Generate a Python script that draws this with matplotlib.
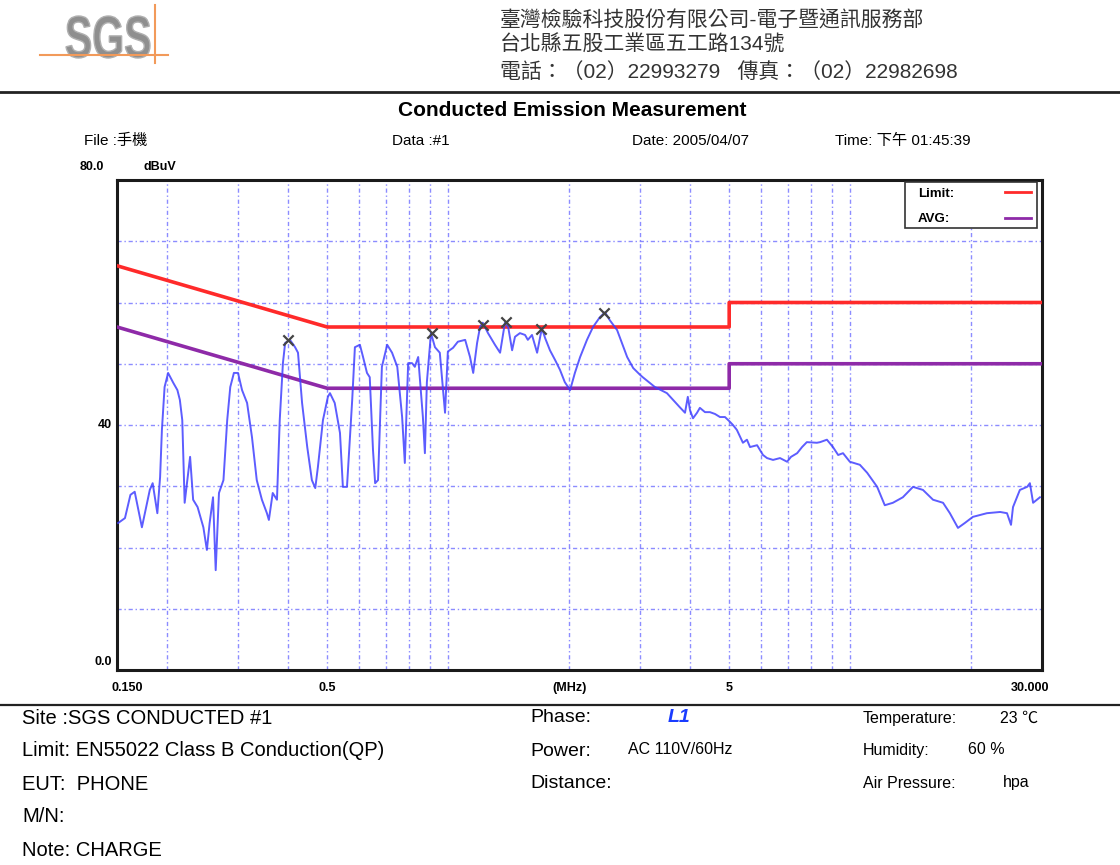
"""
Conducted emission report page: QP / AVG limit lines, measured L1 trace
and peak markers, with the lab header and test-condition block.
"""

import matplotlib
matplotlib.use("Agg")
import matplotlib.pyplot as plt
from matplotlib.lines import Line2D
from matplotlib.patches import PathPatch, Rectangle
from matplotlib.textpath import TextPath
from matplotlib.font_manager import FontProperties
from matplotlib import transforms

W, H = 1120, 865
FONT = ['Liberation Sans', 'Noto Sans CJK TC', 'DejaVu Sans']
plt.rcParams['font.family'] = FONT

# =============================================================================
# data
# =============================================================================

# measured trace, L1 (MHz, dBuV)
FREQ_MHZ = [
    0.151, 0.157, 0.162, 0.166, 0.169, 0.173, 0.176, 0.181, 0.184, 0.189,
    0.192, 0.194, 0.197, 0.201, 0.207, 0.212, 0.215, 0.218, 0.221, 0.228,
    0.232, 0.238, 0.246, 0.251, 0.255, 0.260, 0.264, 0.269, 0.276, 0.282,
    0.287, 0.293, 0.300, 0.307, 0.316, 0.325, 0.334, 0.344, 0.354, 0.358,
    0.366, 0.375, 0.381, 0.388, 0.393, 0.404, 0.416, 0.423, 0.433, 0.446,
    0.458, 0.467, 0.474, 0.488, 0.502,
    0.508, 0.522, 0.538, 0.547, 0.560, 0.577, 0.586, 0.603, 0.614, 0.628,
    0.638, 0.650, 0.658, 0.669, 0.684, 0.705, 0.725, 0.747, 0.768, 0.780,
    0.795, 0.813, 0.826, 0.842, 0.851, 0.865, 0.875, 0.885, 0.906, 0.927,
    0.953, 0.982, 0.998,
    1.028, 1.057, 1.102, 1.133, 1.154, 1.180, 1.200, 1.219, 1.256, 1.307,
    1.346, 1.384, 1.410, 1.442, 1.466, 1.508, 1.553, 1.578, 1.616, 1.664,
    1.710, 1.742, 1.791, 1.845, 1.897, 1.950, 2.010, 2.066, 2.129, 2.214,
    2.292, 2.384, 2.455, 2.524, 2.631, 2.705, 2.787, 2.885, 3.000,
    3.048, 3.267, 3.500, 3.768, 3.882, 3.945, 3.996, 4.064, 4.159, 4.227,
    4.353, 4.478, 4.610, 4.743, 4.881, 5.025, 5.110, 5.225,
    5.409, 5.535, 5.634, 5.866, 6.069, 6.210, 6.428, 6.690, 6.967, 7.125,
    7.380, 7.590, 7.800, 8.262,
    8.415, 8.751, 9.059, 9.334, 9.596, 9.980, 10.57, 11.02, 11.67, 12.19,
    12.77, 13.52, 14.33, 15.17, 16.07, 17.02, 17.70, 18.54, 19.28, 20.19,
    21.88, 23.61, 24.55, 25.12, 25.41, 26.43, 27.55, 27.99, 28.51, 29.65,
]
LEVEL_DBUV = [
    24.0, 24.8, 28.6, 29.1, 26.6, 23.3, 25.6, 29.4, 30.5, 25.6,
    31.5, 39.2, 46.2, 48.5, 46.9, 45.7, 44.1, 40.8, 27.3, 34.8,
    27.8, 26.6, 23.3, 19.6, 24.0, 28.2, 16.3, 28.9, 31.0, 40.8,
    46.2, 48.5, 48.5, 45.7, 43.6, 38.0, 31.0, 27.8, 25.6, 24.5,
    28.9, 27.8, 40.8, 50.1, 53.4, 53.9, 52.7, 51.8, 43.6, 36.4,
    31.0, 29.7, 33.1, 40.8, 44.6,
    45.2, 43.6, 38.7, 29.9, 29.9, 44.1, 52.7, 53.1, 51.1, 48.5,
    47.8, 35.9, 30.5, 31.0, 49.5, 53.1, 51.8, 49.5, 41.3, 33.8,
    50.1, 50.1, 49.5, 51.1, 47.3, 41.3, 35.4, 47.0, 55.0, 52.7,
    51.8, 42.0, 52.0,
    52.6, 53.6, 53.9, 51.1, 48.5, 53.4, 56.0, 56.7, 55.0, 53.1,
    51.8, 56.7, 56.0, 52.2, 54.4, 55.0, 54.7, 53.9, 54.7, 51.8,
    55.8, 54.2, 52.2, 50.6, 49.0, 47.0, 45.7, 48.5, 51.1, 53.9,
    56.0, 57.6, 58.4, 57.1, 55.5, 53.4, 51.1, 49.3, 48.2,
    47.8, 46.2, 45.2, 42.9, 42.0, 44.6, 42.4, 41.1, 42.0, 42.8,
    42.1, 42.1, 41.8, 41.3, 41.3, 40.5, 40.0, 39.2,
    37.1, 37.6, 36.4, 36.7, 35.1, 34.6, 34.3, 34.6, 34.0, 34.8,
    35.4, 36.4, 37.2, 37.1,
    37.2, 37.6, 36.4, 35.1, 35.4, 34.0, 33.5, 32.2, 29.9, 26.9,
    27.3, 28.2, 29.9, 29.4, 27.8, 27.3, 25.6, 23.2, 24.0, 25.0,
    25.6, 25.8, 25.6, 23.7, 26.6, 29.4, 29.9, 30.5, 27.3, 28.2,
]

# EN55022 class B limits
LIMIT_FREQ = [0.15, 0.5, 5.0, 5.0, 30.0]
LIMIT_QP = [66, 56, 56, 60, 60]
LIMIT_AVG = [56, 46, 46, 50, 50]

# marked peaks
MARK_FREQ = [0.400, 0.911, 1.219, 1.392, 1.701, 2.440]
MARK_LEVEL = [53.9, 55.0, 56.3, 56.8, 55.7, 58.3]

GRID_FREQ = [0.2, 0.3, 0.4, 0.5, 0.6, 0.7, 0.8, 0.9, 1, 2, 3, 4, 5,
             6, 7, 8, 9, 10, 20]
GRID_LEVEL = [10, 20, 30, 40, 50, 60, 70]
X_LABELS = [(0.150, '0.150'), (0.5, '0.5'), (2.0, '(MHz)'),
            (5.0, '5'), (30.0, '30.000')]


# =============================================================================
# helpers
# =============================================================================

def fx(x):
    return x / W


def fy(y):
    return 1 - y / H


def put(fig, x, y, s, size=11, **kw):
    kw.setdefault('va', 'center')
    kw.setdefault('ha', 'left')
    fig.text(fx(x), fy(y), s, fontsize=size, **kw)


def draw_logo(fig):
    prop = FontProperties(family='Liberation Sans', weight='bold')
    path = TextPath((0, 0), 'SGS', size=60, prop=prop)
    ext = path.get_extents()
    sx = 84 / ext.width
    sy = 42 / ext.height
    tr = (transforms.Affine2D().translate(-ext.x0, -ext.y0)
          .scale(sx, sy).translate(66, H - 58))
    patch = PathPatch(tr.transform_path(path), facecolor='#8f8f8f',
                      edgecolor='#b0b0b0', lw=1.0,
                      transform=transforms.IdentityTransform())
    fig.add_artist(patch)
    orange = '#f29a5a'
    fig.add_artist(Line2D([fx(40), fx(168)], [fy(55), fy(55)],
                          color=orange, lw=1.5))
    fig.add_artist(Line2D([fx(155), fx(155)], [fy(5), fy(63)],
                          color=orange, lw=1.5))


# =============================================================================
# page
# =============================================================================

def draw_page():
    fig = plt.figure(figsize=(W / 100, H / 100), dpi=100)
    fig.patch.set_facecolor('white')

    draw_logo(fig)
    put(fig, 500, 20, '臺灣檢驗科技股份有限公司-電子暨通訊服務部', 15,
        color='#333333')
    put(fig, 500, 45, '台北縣五股工業區五工路134號', 15, color='#333333')
    put(fig, 500, 72, '電話：（02）22993279   傳真：（02）22982698', 15,
        color='#333333')
    fig.add_artist(Line2D([0, 1], [fy(92), fy(92)], color='#222222', lw=2))

    put(fig, 572, 111, 'Conducted Emission Measurement', 15,
        ha='center', weight='bold')
    put(fig, 84, 141, 'File :手機', 11)
    put(fig, 392, 141, 'Data :#1', 11)
    put(fig, 632, 141, 'Date: 2005/04/07', 11)
    put(fig, 835, 141, 'Time: 下午 01:45:39', 11)

    # --- plot area -----------------------------------------------------------
    ax = fig.add_axes([fx(117), fy(670), fx(1042) - fx(117),
                       fy(180) - fy(670)])
    ax.set_xscale('log')
    ax.set_xlim(0.15, 30)
    ax.set_ylim(0, 80)

    grid_kw = dict(color='#6f6fff', lw=1.0, alpha=0.8,
                   linestyle=(0, (3, 2, 1, 2)), zorder=1)
    for f in GRID_FREQ:
        ax.axvline(f, **grid_kw)
    for lv in GRID_LEVEL:
        ax.axhline(lv, **grid_kw)

    ax.plot(LIMIT_FREQ, LIMIT_QP, color='#ff2a2a', lw=2.6, zorder=3)
    ax.plot(LIMIT_FREQ, LIMIT_AVG, color='#8e2aa8', lw=2.6, zorder=3)
    ax.plot(FREQ_MHZ, LEVEL_DBUV, color='#4040ff', lw=1.4, alpha=0.85,
            zorder=4)
    ax.scatter(MARK_FREQ, MARK_LEVEL, marker='x', s=55, color='#444444',
               linewidths=1.6, zorder=5)

    ax.set_xticks([])
    ax.set_yticks([])
    ax.minorticks_off()
    for side in ['left', 'bottom', 'right', 'top']:
        ax.spines[side].set_color('#1a1a1a')
        ax.spines[side].set_linewidth(2.2)

    # legend box
    leg = Rectangle((fx(905), fy(228)), fx(1037) - fx(905),
                    fy(182) - fy(228), transform=fig.transFigure,
                    facecolor='white', edgecolor='#333333', lw=1.2,
                    zorder=10)
    fig.add_artist(leg)
    put(fig, 918, 194, 'Limit:', 9.5, weight='bold', zorder=11)
    put(fig, 918, 219, 'AVG:', 9.5, weight='bold', zorder=11)
    fig.add_artist(Line2D([fx(1005), fx(1031)], [fy(192), fy(192)],
                          color='#ff2a2a', lw=2, zorder=11))
    fig.add_artist(Line2D([fx(1005), fx(1031)], [fy(218), fy(218)],
                          color='#8e2aa8', lw=2, zorder=11))

    # axis labels
    put(fig, 80, 167, '80.0', 9, weight='bold')
    put(fig, 143, 167, 'dBuV', 9, weight='bold')
    put(fig, 112, 425, '40', 9, weight='bold', ha='right')
    put(fig, 112, 662, '0.0', 9, weight='bold', ha='right')
    trans = transforms.blended_transform_factory(ax.transData,
                                                 fig.transFigure)
    offsets = {'0.150': 10, '30.000': -12}
    for f, lab in X_LABELS:
        t = ax.text(f, fy(688), lab, transform=trans, fontsize=9,
                    weight='bold', ha='center', va='center')
        if lab in offsets:
            t.set_transform(trans + transforms.ScaledTranslation(
                offsets[lab] / 100, 0, fig.dpi_scale_trans))

    fig.add_artist(Line2D([0, 1], [fy(705), fy(705)], color='#222222',
                          lw=1.6))

    # --- test conditions -----------------------------------------------------
    put(fig, 22, 718, 'Site :SGS CONDUCTED #1', 14.5)
    put(fig, 22, 751, 'Limit: EN55022 Class B Conduction(QP)', 14.5)
    put(fig, 22, 784, 'EUT:  PHONE', 14.5)
    put(fig, 22, 817, 'M/N:', 14.5)
    put(fig, 22, 850, 'Note: CHARGE', 14.5)

    put(fig, 530, 718, 'Phase:', 14)
    put(fig, 668, 718, 'L1', 14, color='#1a3cff', style='italic',
        weight='bold')
    put(fig, 530, 751, 'Power:', 14)
    put(fig, 628, 749, 'AC 110V/60Hz', 11.5)
    put(fig, 530, 784, 'Distance:', 14)

    put(fig, 863, 718, 'Temperature:', 11.5)
    put(fig, 1000, 718, '23 ℃', 11.5)
    put(fig, 863, 750, 'Humidity:', 11.5)
    put(fig, 968, 750, '60 %', 11.5)
    put(fig, 863, 783, 'Air Pressure:', 11.5)
    put(fig, 1003, 783, 'hpa', 11.5)

    fig.savefig('out.png', dpi=100)


if __name__ == "__main__":
    draw_page()
